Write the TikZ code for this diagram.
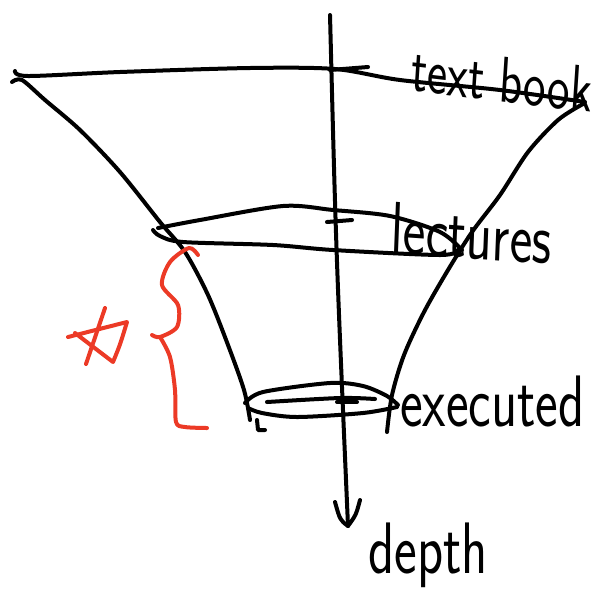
\documentclass[tikz,border=0pt]{standalone}
\usepackage{fontspec}
\definecolor{penred}{RGB}{236,58,38}
\begin{document}
\begin{tikzpicture}[x=0.5pt, y=-0.5pt, line cap=round, line join=round,
    pen/.style={line width=2pt, black},
    redpen/.style={line width=2pt, penred},
    hand/.style={font=\sffamily\fontsize{27}{27}\selectfont, inner sep=0pt, yscale=1.35}]

    \useasboundingbox (0,0) rectangle (592,590);

    % depth axis
    \coordinate (axtop) at (330,15);
    \coordinate (axbot) at (348,526);
    \draw[pen] (axtop) .. controls (336,250) .. (axbot);
    \draw[pen] (335,502) .. controls (340,520) .. (axbot) .. controls (356,515) .. (360,500);
    \node[hand, anchor=north west] (depth) at (368,522) {depth};

    % top layer
    \draw[pen] plot[smooth] coordinates {(15,71) (28,76) (120,72) (250,68) (335,69) (400,80) (500,90) (585,102)};
    \draw[pen] (330,70) -- (368,67);
    \node[hand, font=\sffamily\fontsize{24}{24}\selectfont, rotate=-5, anchor=south west] (textbook) at (410,92) {text book};

    % funnel sides
    \draw[pen] plot[smooth] coordinates {(12,82) (22,80) (45,100) (80,130) (120,172) (160,222) (185,252) (208,295) (228,345) (244,390) (250,420)};
    \draw[pen] plot[smooth] coordinates {(583,104) (558,120) (528,152) (500,195) (472,232) (448,270) (424,312) (404,355) (392,395) (387,432)};

    % middle layer
    \draw[pen] plot[smooth] coordinates {(158,228) (200,220) (283,206) (333,210) (390,216) (440,232) (462,250)};
    \draw[pen] plot[smooth] coordinates {(153,230) (160,236) (183,242) (273,245) (333,250) (440,255) (458,250)};
    \draw[pen] (327,222) -- (352,220);
    \node[hand, rotate=-3, anchor=south west] (lectures) at (390,254) {lectures};

    % bottom layer
    \draw[pen] plot[smooth] coordinates {(245,403) (263,392) (330,383) (363,386) (387,396) (398,405)};
    \draw[pen] plot[smooth] coordinates {(248,408) (262,413) (297,417) (363,413) (397,407)};
    \draw[pen] plot[smooth] coordinates {(267,402) (340,398) (375,399)};
    \draw[pen] (337,402) -- (357,402);
    \draw[pen] (257,420) -- (258,430) -- (265,430);
    \node[hand, anchor=south west] (executed) at (400,428) {executed};

    % red brace and star
    \draw[redpen] plot[smooth] coordinates {(198,255) (189,248) (170,262) (162,285) (178,305) (177,327) (160,337) (152,335)};
    \draw[redpen] plot[smooth] coordinates {(160,337) (170,357) (175,390) (176,422) (185,427) (207,428)};
    \draw[redpen] (68,337) -- (127,322) .. controls (120,345) .. (113,362) -- (75,333);
    \draw[redpen] (105,308) -- (86,364);
\end{tikzpicture}
\end{document}
